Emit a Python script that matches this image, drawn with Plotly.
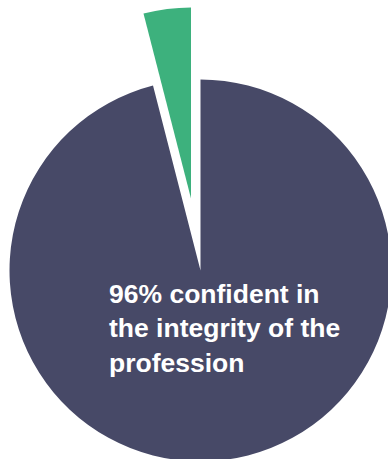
import plotly.graph_objects as go

# Data
labels = ["Confident in the integrity of the profession", "Not confident"]
values = [96, 4]
colors_main = ["#474967", "rgba(0,0,0,0)"]
colors_pulled = ["rgba(0,0,0,0)", "#3db17d"]
annotation_text = "96% confident in<br>the integrity of the<br>profession"

W, H = 392, 462


def dom(cx, cy, r):
    return dict(x=[max(0, (cx - r) / W), min(1, (cx + r) / W)],
                y=[max(0, 1 - (cy + r) / H), min(1, 1 - (cy - r) / H)])


fig = go.Figure()
fig.add_trace(go.Pie(
    labels=labels, values=values, sort=False, direction="counterclockwise",
    rotation=0, marker=dict(colors=colors_main, line=dict(width=0)),
    textinfo="none", hoverinfo="skip", showlegend=False,
    domain=dom(200.5, 270.5, 191),
))
fig.add_trace(go.Pie(
    labels=labels, values=values, sort=False, direction="counterclockwise",
    rotation=0, marker=dict(colors=colors_pulled, line=dict(width=0)),
    textinfo="none", hoverinfo="skip", showlegend=False,
    domain=dom(191, 198.5, 191),
))

fig.add_annotation(
    x=107 / W, y=1 - 328 / H, xref="paper", yref="paper",
    xanchor="left", yanchor="middle", align="left", showarrow=False,
    text=annotation_text,
    font=dict(family="Liberation Sans, Arial, sans-serif", size=26.5, color="white", weight="bold"),
)

fig.update_layout(
    width=W, height=H, margin=dict(l=0, r=0, t=0, b=0, pad=0),
    paper_bgcolor="white", plot_bgcolor="white",
)

fig.write_html(
    "out.html",
    config={"displayModeBar": False},
    post_script="document.documentElement.style.overflow='hidden';document.body.style.overflow='hidden';document.body.style.margin='0';",
)
